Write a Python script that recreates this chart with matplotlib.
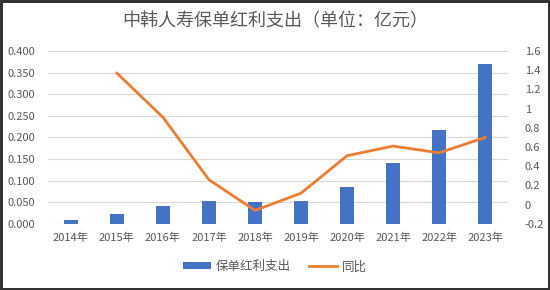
import matplotlib
matplotlib.use("Agg")
import matplotlib.pyplot as plt
import numpy as np

plt.rcParams['font.family'] = ['Noto Sans CJK SC', 'DejaVu Sans']

years = ['2014年', '2015年', '2016年', '2017年', '2018年',
         '2019年', '2020年', '2021年', '2022年', '2023年']
dividend = [0.008, 0.022, 0.042, 0.053, 0.051, 0.053, 0.085, 0.140, 0.218, 0.370]
yoy = [None, 1.37, 0.91, 0.26, -0.06, 0.12, 0.51, 0.61, 0.54, 0.70]

left_ticks = [0.0, 0.05, 0.1, 0.15, 0.2, 0.25, 0.3, 0.35, 0.4]
right_ticks = [-0.2, 0, 0.2, 0.4, 0.6, 0.8, 1, 1.2, 1.4, 1.6]
right_labels = ['-0.2', '0', '0.2', '0.4', '0.6', '0.8', '1', '1.2', '1.4', '1.6']

text_color = '#595959'
bar_color = '#4472C4'
line_color = '#ED7D31'

fig = plt.figure(figsize=(5.5, 2.9), dpi=100)
fig.patch.set_edgecolor('#333333')
fig.patch.set_linewidth(2.5)
ax = fig.add_axes([0.087, 0.228, 0.837, 0.596])
ax2 = ax.twinx()

x = np.arange(len(years))
ax.bar(x, dividend, width=0.31, color=bar_color, label='保单红利支出', zorder=2)
ax.set_ylim(0, 0.4)
ax.set_yticks(left_ticks)
ax.set_yticklabels(['%.3f' % t for t in left_ticks])
ax.set_xlim(-0.5, len(years) - 0.5)
ax.set_xticks(x)
ax.set_xticklabels(years)
ax.grid(axis='y', color='#d9d9d9', linewidth=0.8, zorder=0)
ax.set_axisbelow(True)

lx = [i for i, v in enumerate(yoy) if v is not None]
ly = [v for v in yoy if v is not None]
ax2.plot(lx, ly, color=line_color, linewidth=2, label='同比', zorder=3)
ax2.set_ylim(-0.2, 1.6)
ax2.set_yticks(right_ticks)
ax2.set_yticklabels(right_labels)

for a in (ax, ax2):
    for s in a.spines.values():
        s.set_visible(False)
    a.tick_params(length=0, labelsize=8, labelcolor=text_color)
ax.tick_params(axis='y', pad=9)
ax.tick_params(axis='x', pad=6)
ax2.tick_params(axis='y', pad=12)

fig.text(0.5, 0.925, '中韩人寿保单红利支出（单位：亿元）', ha='center', va='center',
         fontsize=13, fontweight='medium', color=text_color)

h1, l1 = ax.get_legend_handles_labels()
h2, l2 = ax2.get_legend_handles_labels()
fig.legend(h1 + h2, l1 + l2, loc='center', bbox_to_anchor=(0.5, 0.08), ncol=2,
           frameon=False, fontsize=9, labelcolor=text_color, handlelength=2.2,
           handleheight=0.5, handletextpad=0.4, columnspacing=1.5)

fig.savefig('out.png', dpi=100)
